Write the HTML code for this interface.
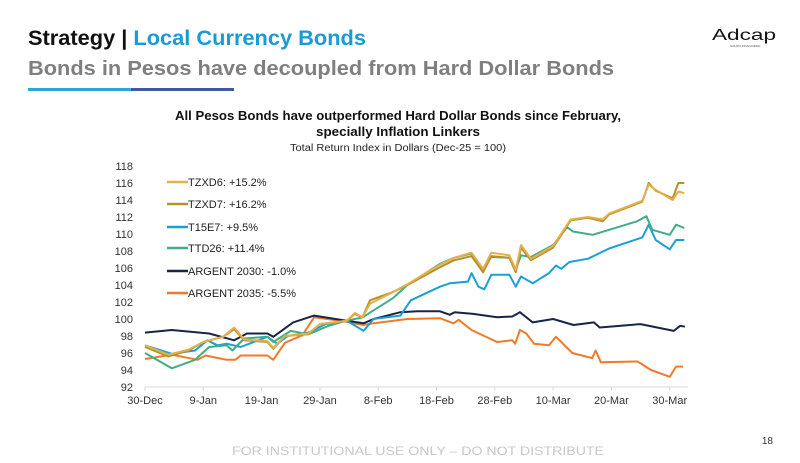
<!DOCTYPE html>
<html><head><meta charset="utf-8"><style>
html,body{margin:0;padding:0;background:#fff;width:800px;height:463px;overflow:hidden}
svg{display:block;font-family:"Liberation Sans",sans-serif}
</style></head><body>
<svg id="slide" width="800" height="463" viewBox="0 0 800 463">
<text x="28" y="45" font-size="21" font-weight="bold" fill="#111" textLength="338" lengthAdjust="spacingAndGlyphs">Strategy | <tspan fill="#1a9bd7">Local Currency Bonds</tspan></text>
<text x="28" y="75" font-size="20" font-weight="bold" fill="#7f7f7f" textLength="586" lengthAdjust="spacingAndGlyphs">Bonds in Pesos have decoupled from Hard Dollar Bonds</text>
<rect x="28" y="88" width="103" height="3" fill="#2aa7dc"/>
<rect x="131" y="88" width="103" height="3" fill="#3d5a9a"/>
<text x="712" y="40" font-size="16" fill="#111" textLength="64" lengthAdjust="spacingAndGlyphs">Adcap</text>
<text x="730" y="47" font-size="3" fill="#555">GRUPO FINANCIERO</text>
<text x="398" y="120" font-size="12.5" font-weight="bold" fill="#111" text-anchor="middle" textLength="446" lengthAdjust="spacingAndGlyphs">All Pesos Bonds have outperformed Hard Dollar Bonds since February,</text>
<text x="398" y="136" font-size="12.5" font-weight="bold" fill="#111" text-anchor="middle" textLength="164" lengthAdjust="spacingAndGlyphs">specially Inflation Linkers</text>
<text x="398" y="151" font-size="10" fill="#222" text-anchor="middle" textLength="216" lengthAdjust="spacingAndGlyphs">Total Return Index in Dollars (Dec-25 = 100)</text>
<g id="chart"></g>
<text x="418" y="455" font-size="12" fill="#c8c8c8" text-anchor="middle" textLength="372" lengthAdjust="spacingAndGlyphs">FOR INSTITUTIONAL USE ONLY – DO NOT DISTRIBUTE</text>
<text x="773" y="444" font-size="10" fill="#333" text-anchor="end">18</text>
</svg>
<script>
const yTicks=[92,94,96,98,100,102,104,106,108,110,112,114,116,118];
const xTickLabels=["30-Dec","9-Jan","19-Jan","29-Jan","8-Feb","18-Feb","28-Feb","10-Mar","20-Mar","30-Mar"];
const xTickDays=[0,10,20,30,40,50,60,70,80,90];
const seriesNames=["TZXD6: +15.2%","TZXD7: +16.2%","T15E7: +9.5%","TTD26: +11.4%","ARGENT 2030: -1.0%","ARGENT 2035: -5.5%"];
const seriesColors=["#e3b04b","#b8902a","#1ba0d6","#3fae86","#1a2348","#f07a2a"];
const goldDays=[0,4,7.5,10,13.4,15.3,17,21,22,24,28,30,34.6,36,37.3,38.6,42.6,45,50.6,53,56,58,59.4,62.5,63.6,64.5,66.2,70,73,76,78.5,79.6,85.3,86.4,87.6,90.5,91.5,92.5];
const tzxd6=[96.9,95.8,96.4,97.3,97.9,99.0,97.6,97.4,96.6,98.0,98.3,99.4,99.8,100.7,100.2,101.8,103.2,104.1,106.4,107.2,107.8,105.9,107.8,107.5,105.8,108.7,107.1,108.6,111.7,112.0,111.7,112.4,113.9,115.8,115.2,114.0,115.0,114.8];
const tzxd7=[96.7,95.6,96.3,97.3,97.9,98.8,97.5,97.3,96.5,98.0,98.2,99.4,99.8,100.6,100.2,102.2,103.2,104.0,106.1,106.9,107.4,105.5,107.4,107.2,105.5,108.4,106.9,108.4,111.6,111.9,111.5,112.3,113.8,116.0,115.1,114.2,116.0,116.0];
const greenDays=[0,4.6,8.6,11,14,15,17,21,22,25,28,31.5,34.6,37.4,38.7,42.6,45,50.6,53,56,58,59.4,62.5,63.6,64.5,66.2,70,72.4,73.4,76.8,84.4,86,87,90,91.1,92.5];
const ttd26=[96.0,94.2,95.2,96.7,96.9,96.3,97.7,97.9,97.3,98.6,98.2,99.2,99.8,100.2,100.8,102.5,104.0,106.5,107.2,107.7,105.8,107.3,107.2,105.8,107.5,107.3,108.7,110.8,110.3,109.9,111.5,112.1,110.5,109.9,111.1,110.7];
const blueDays=[0,4.6,8.6,10.7,12.4,14,16.4,21,22.7,24.5,28,31,34.6,37.5,39.2,43.8,45.6,50.6,52.3,55.4,56,57.2,58.2,59.4,62.5,63.6,64.5,66.5,69.3,70.5,71.4,72.8,76,79.6,85.3,86.4,87.6,90,91.1,92.5];
const t15e7=[96.9,95.9,96.3,97.5,96.9,97.1,96.7,97.9,97.1,98.0,98.4,99.4,99.8,98.6,100.0,100.4,102.2,103.8,104.2,104.4,105.4,103.8,103.5,105.2,105.2,103.8,105.0,104.2,105.4,106.3,105.9,106.7,107.1,108.3,109.6,111.1,109.3,108.2,109.3,109.3];
const navyDays=[0,4.6,11,15.3,17.5,21,22,25.4,29,34.6,37.5,39.2,43.8,46.7,50.6,52.3,53.1,56.3,60.4,63,64.3,66.5,70,73.5,77,78,85,90.7,91.8,92.6];
const argent2030=[98.4,98.7,98.3,97.5,98.3,98.3,97.9,99.6,100.4,99.8,99.5,100.0,100.8,100.9,100.9,100.5,100.8,100.6,100.2,100.3,100.8,99.6,100.0,99.3,99.6,99.0,99.4,98.6,99.2,99.1];
const orangeDays=[0,4.6,9,10.4,14,15.5,16.4,21,22,24,27,29,33.5,37.4,39.2,45,50.6,52.9,53.8,56,60.4,63,63.5,64.3,65.4,66.7,69.3,70.5,73.3,76.7,77.3,78.2,84.5,86.8,90,91.1,92.3];
const argent2035=[95.3,95.8,95.2,95.7,95.2,95.2,95.7,95.7,95.2,97.2,98.1,100.2,99.8,99.3,99.5,100.0,100.1,99.5,99.9,98.7,97.3,97.5,97.1,98.7,98.3,97.1,96.9,97.9,96.0,95.4,96.3,94.9,95.0,94.0,93.2,94.4,94.4];
const NS="http://www.w3.org/2000/svg";
const g=document.getElementById('chart');
const X0=145,PX=5.83,Y0=387,PY=221/26;
function xs(d){return X0+d*PX;}
function ys(v){return Y0-(v-92)*PY;}
function mk(t,a){const e=document.createElementNS(NS,t);for(const k in a)e.setAttribute(k,a[k]);g.appendChild(e);return e;}
const axis=mk('line',{x1:145,x2:688,y1:Y0,y2:Y0,stroke:'#d9d9d9','stroke-width':1});


yTicks.forEach(v=>{const t=mk('text',{x:133,y:ys(v)+4,'font-size':11,fill:'#333','text-anchor':'end'});t.textContent=v;

});
xTickLabels.forEach((l,i)=>{const x=xs(xTickDays[i]);
const tk=mk('line',{x1:x,x2:x,y1:Y0,y2:Y0+4,stroke:'#d9d9d9'});


const t=mk('text',{x:x,y:Y0+17,'font-size':11,fill:'#333','text-anchor':'middle'});t.textContent=l;

});
const sdays=[goldDays,goldDays,blueDays,greenDays,navyDays,orangeDays];
const svals=[tzxd6,tzxd7,t15e7,ttd26,argent2030,argent2035];
const order=[5,4,2,3,1,0];
const keys=['tzxd6','tzxd7','t15e7','ttd26','argent-2030','argent-2035'];
order.forEach(i=>{const pts=svals[i].map((v,j)=>xs(sdays[i][j]).toFixed(1)+','+ys(v).toFixed(1)).join(' ');
const p=mk('polyline',{points:pts,fill:'none',stroke:seriesColors[i],'stroke-width':2,'stroke-linejoin':'round'});

});
const legY=[182,204,227,248,271,293];
seriesNames.forEach((n,i)=>{
const l=mk('line',{x1:167,x2:188,y1:legY[i],y2:legY[i],stroke:seriesColors[i],'stroke-width':2.5});


const t=mk('text',{x:188,y:legY[i]+4,'font-size':11,fill:'#222'});t.textContent=n;

});
</script>
</body></html>
